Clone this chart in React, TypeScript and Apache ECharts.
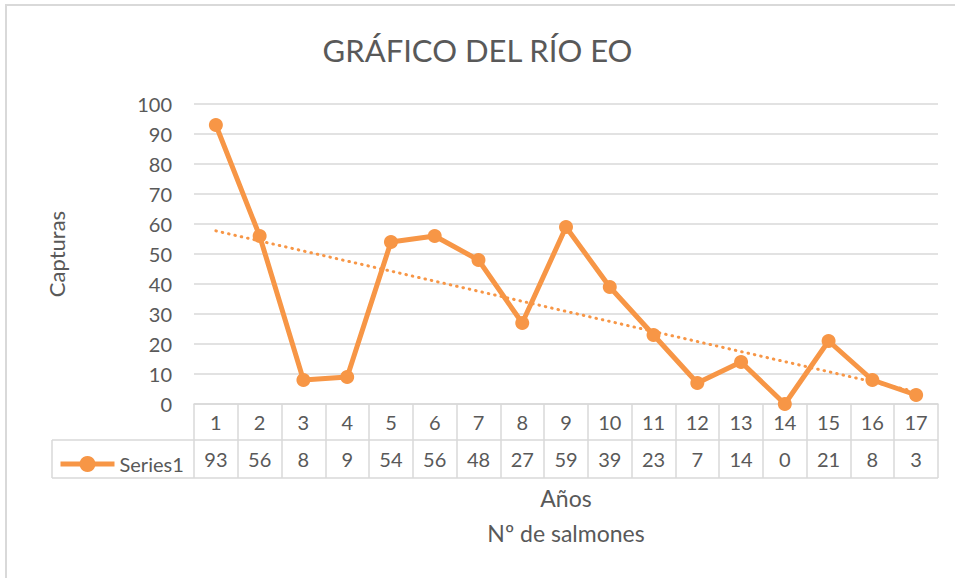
import React, { useEffect, useRef } from "react";
import * as echarts from "echarts";

const categories = ["1", "2", "3", "4", "5", "6", "7", "8", "9", "10", "11", "12", "13", "14", "15", "16", "17"];
const salmones = [93, 56, 8, 9, 54, 56, 48, 27, 59, 39, 23, 7, 14, 0, 21, 8, 3];
const seriesName = "Series1";
const titleText = "GRÁFICO DEL RÍO EO";
const yName = "Capturas";
const xName = "Años\nNº de salmones";
const yMin = 0;
const yMax = 100;
const yInterval = 10;

// Linear trendline (least squares) derived from the data, as Excel does
function linearTrend(values: number[]): number[] {
  const n = values.length;
  const xs = values.map((_, i) => i + 1);
  const mx = xs.reduce((a, b) => a + b, 0) / n;
  const my = values.reduce((a, b) => a + b, 0) / n;
  let sxy = 0;
  let sxx = 0;
  for (let i = 0; i < n; i++) {
    sxy += (xs[i] - mx) * (values[i] - my);
    sxx += (xs[i] - mx) * (xs[i] - mx);
  }
  const slope = sxy / sxx;
  return xs.map((x) => +(my + slope * (x - mx)).toFixed(3));
}

const ORANGE = "#f79646";
const GRID = "#d9d9d9";
const TEXT = "#595959";
const FONT = "Lato, 'Open Sans', sans-serif";

const G_LEFT = 194;
const G_TOP = 104;
const G_WIDTH = 744;
const G_HEIGHT = 300;
const ROW1 = 36;
const ROW2 = 38;
const TABLE_LEFT = 52;

export default function App() {
  const ref = useRef<HTMLDivElement>(null);
  useEffect(() => {
    if (!ref.current) return;
    const chart = echarts.init(ref.current, undefined, { renderer: "svg" });
    const bottom = G_TOP + G_HEIGHT;
    const right = G_LEFT + G_WIDTH;
    const lineStyle = { stroke: GRID, lineWidth: 1.5 };
    chart.setOption({
      animation: false,
      backgroundColor: "#ffffff",
      title: {
        text: titleText,
        left: "center",
        top: 29,
        textStyle: { fontFamily: FONT, fontSize: 31, fontWeight: "normal", color: TEXT },
      },
      legend: {
        data: [seriesName],
        left: 53,
        top: bottom + ROW1 + 9,
        itemWidth: 54,
        itemHeight: 20,
        itemGap: 0,
        lineStyle: { width: 5, color: ORANGE },
        textStyle: { fontFamily: FONT, fontSize: 20, color: TEXT, lineHeight: 20 },
      },
      grid: { left: G_LEFT, top: G_TOP, width: G_WIDTH, height: G_HEIGHT, containLabel: false },
      xAxis: [
        {
          type: "category",
          data: categories,
          position: "bottom",
          boundaryGap: true,
          axisLine: { show: true, lineStyle: { color: GRID, width: 1.5 } },
          axisTick: { show: true, length: ROW1 + ROW2, lineStyle: { color: GRID, width: 1.5 } },
          axisLabel: { fontFamily: FONT, fontSize: 20, color: TEXT, margin: 8, lineHeight: 20, interval: 0 },
          splitLine: { show: false },
        },
        {
          type: "category",
          data: salmones.map(String),
          position: "bottom",
          offset: ROW1,
          boundaryGap: true,
          axisLine: { show: false },
          axisTick: { show: false },
          axisLabel: { fontFamily: FONT, fontSize: 20, color: TEXT, margin: 9, lineHeight: 20, interval: 0 },
          name: xName,
          nameLocation: "middle",
          nameGap: 40,
          nameTextStyle: { fontFamily: FONT, fontSize: 23, color: TEXT, lineHeight: 35 },
        },
      ],
      yAxis: {
        type: "value",
        min: yMin,
        max: yMax,
        interval: yInterval,
        axisLine: { show: false },
        axisTick: { show: false },
        axisLabel: { fontFamily: FONT, fontSize: 20, color: TEXT, margin: 22 },
        splitLine: { show: true, lineStyle: { color: GRID, width: 1.5 } },
        name: yName,
        nameLocation: "middle",
        nameRotate: 90,
        nameGap: 127,
        nameTextStyle: { fontFamily: FONT, fontSize: 22, color: TEXT },
      },
      series: [
        {
          name: "trend",
          type: "line",
          data: linearTrend(salmones),
          symbol: "none",
          silent: true,
          lineStyle: { color: ORANGE, width: 3, type: [0.5, 6], cap: "round" },
          z: 2,
        },
        {
          name: seriesName,
          type: "line",
          data: salmones,
          symbol: "circle",
          symbolSize: 14,
          itemStyle: { color: ORANGE },
          lineStyle: { color: ORANGE, width: 5 },
          z: 3,
        },
      ],
      graphic: [
        {
          type: "rect",
          shape: { x: 6, y: 5, width: 1200, height: 800 },
          style: { fill: "none", stroke: GRID, lineWidth: 2 },
          silent: true,
        },
        { type: "line", shape: { x1: TABLE_LEFT, y1: bottom + ROW1, x2: right, y2: bottom + ROW1 }, style: lineStyle, silent: true },
        { type: "line", shape: { x1: TABLE_LEFT, y1: bottom + ROW1 + ROW2, x2: right, y2: bottom + ROW1 + ROW2 }, style: lineStyle, silent: true },
        { type: "line", shape: { x1: TABLE_LEFT, y1: bottom + ROW1, x2: TABLE_LEFT, y2: bottom + ROW1 + ROW2 }, style: lineStyle, silent: true },
      ],
    });
    return () => chart.dispose();
  }, []);
  return <div ref={ref} style={{ position: "absolute", left: 0, top: 0, width: 955, height: 578 }} />;
}
